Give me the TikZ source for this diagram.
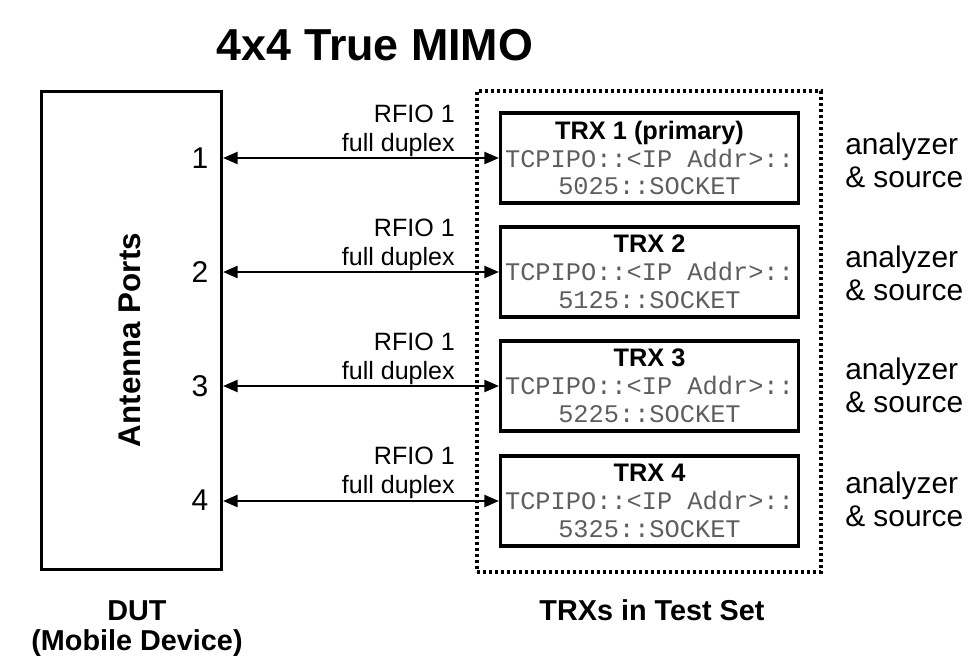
\documentclass[tikz,border=0pt]{standalone}
\usepackage{fontspec}
\setmainfont{Liberation Sans}
\setmonofont{Liberation Mono}
\usetikzlibrary{arrows.meta, positioning}
\definecolor{addrgray}{HTML}{5E5E5E}
\newcommand{\sockaddr}[1]{\textcolor{addrgray}{\ttfamily #1}}

\begin{document}
\begin{tikzpicture}[x=0.75pt, y=-0.75pt, font=\fontsize{18.8}{22}\selectfont, box/.style={draw, line width=2.3pt, inner sep=0pt}, trx/.style={box, minimum width=223.5pt, minimum height=67.5pt, align=center, font=\fontsize{19}{20.8}\selectfont}, duplex/.style={line width=1.9pt, {Triangle[length=11pt,width=9pt]}-{Triangle[length=11pt,width=9pt]}}, rfio/.style={align=right, anchor=south east, inner sep=0pt}, port/.style={font=\fontsize{22.5}{26}\selectfont}, role/.style={align=left, anchor=west, inner sep=0pt, font=\fontsize{22.4}{24.75}\selectfont}, caption/.style={align=center, font=\bfseries\fontsize{21.6}{22.5}\selectfont}]
\useasboundingbox (0,0) rectangle (969,660);
\node[font=\bfseries\fontsize{33.6}{40}\selectfont] (title) at (375,45) {4x4 True MIMO};
\node[box, minimum width=135pt, minimum height=358.5pt] (dut) at (131.5,330.5) {};
\node[rotate=90, font=\bfseries\fontsize{23.5}{28}\selectfont] (ports) at (130,340) {Antenna Ports};
\node[draw, line width=2.6pt, dash pattern=on 2.3pt off 2.2pt, minimum width=258pt, minimum height=360.75pt] (set) at (649,331.5) {};
\node[trx] (trx1) at (649.5,158) {\textbf{TRX 1 (primary)}\\\sockaddr{TCPIPO::<IP Addr>::}\\\sockaddr{5025::SOCKET}};
\node[trx] (trx2) at (649.5,272) {\textbf{TRX 2}\\\sockaddr{TCPIPO::<IP Addr>::}\\\sockaddr{5125::SOCKET}};
\node[trx] (trx3) at (649.5,386) {\textbf{TRX 3}\\\sockaddr{TCPIPO::<IP Addr>::}\\\sockaddr{5225::SOCKET}};
\node[trx] (trx4) at (649.5,501) {\textbf{TRX 4}\\\sockaddr{TCPIPO::<IP Addr>::}\\\sockaddr{5325::SOCKET}};
\node[port] (n1) at (200,158) {1}; \coordinate (a1) at (dut.east |- trx1.west); \draw[duplex] (a1) -- (trx1.west); \node[rfio] (r1) at (455,157) {RFIO 1\\full duplex}; \node[role] (s1) at (845,160) {analyzer\\\& source};
\node[port] (n2) at (200,272) {2}; \coordinate (a2) at (dut.east |- trx2.west); \draw[duplex] (a2) -- (trx2.west); \node[rfio] (r2) at (455,271) {RFIO 1\\full duplex}; \node[role] (s2) at (845,273) {analyzer\\\& source};
\node[port] (n3) at (200,386) {3}; \coordinate (a3) at (dut.east |- trx3.west); \draw[duplex] (a3) -- (trx3.west); \node[rfio] (r3) at (455,385) {RFIO 1\\full duplex}; \node[role] (s3) at (845,385) {analyzer\\\& source};
\node[port] (n4) at (200,500) {4}; \coordinate (a4) at (dut.east |- trx4.west); \draw[duplex] (a4) -- (trx4.west); \node[rfio] (r4) at (455,499) {RFIO 1\\full duplex}; \node[role] (s4) at (845,499) {analyzer\\\& source};
\node[caption] (dutcap) at (137,629) {DUT\\(Mobile Device)};
\node[caption] (setcap) at (652,610) {TRXs in Test Set};
\end{tikzpicture}
\end{document}
